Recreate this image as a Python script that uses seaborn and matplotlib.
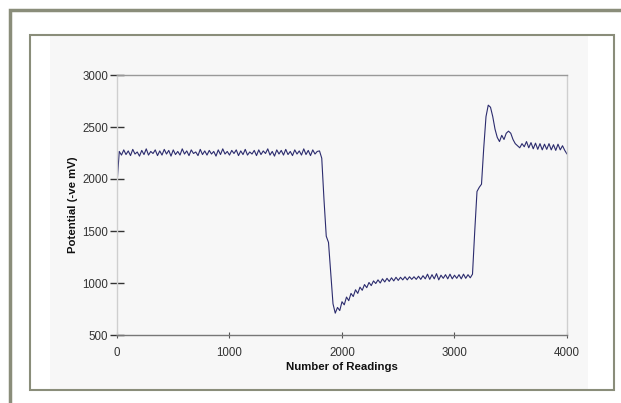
import numpy as np
import pandas as pd
import matplotlib
matplotlib.use("Agg")
import matplotlib.pyplot as plt
from matplotlib.patches import Rectangle
import seaborn as sns

# readings sampled every 20 readings (x axis: Number of Readings)
readings = np.arange(0, 4001, 20)

# Potential (-ve mV) values
plateau_high = [1950, 2265, 2230, 2280, 2235, 2270, 2225, 2285, 2240, 2260,
                2220, 2275, 2235, 2290, 2230, 2265, 2245, 2280, 2225, 2270,
                2230, 2285, 2240, 2275, 2220, 2280, 2235, 2265, 2230, 2290,
                2240, 2270, 2225, 2280, 2245, 2260, 2225, 2285, 2235, 2270,
                2230, 2275, 2240, 2265, 2220, 2280, 2235, 2290, 2240, 2265,
                2230, 2275, 2245, 2280, 2225, 2270, 2235, 2285, 2230, 2260,
                2240, 2275, 2225, 2280, 2235, 2270, 2245, 2290, 2230, 2265,
                2220, 2280, 2240, 2275, 2230, 2285, 2235, 2265, 2225, 2280,
                2240, 2270, 2230, 2290, 2235, 2275, 2225, 2280, 2240, 2265,
                2270]
drop = [2200, 1800, 1450, 1390, 1100, 800, 710]
recovery = [765, 735, 820, 790, 865, 830, 900, 870, 935, 900,
            960, 930, 985, 955, 1005, 975, 1020, 995, 1030, 1000,
            1040, 1010, 1045, 1015, 1050, 1020, 1055, 1025, 1055, 1030,
            1060, 1030, 1060, 1035, 1060, 1035, 1065, 1035, 1070, 1040,
            1085, 1035, 1080, 1040, 1090, 1030, 1075, 1045, 1080, 1040,
            1085, 1040, 1075, 1045, 1080, 1040, 1085, 1045, 1080, 1050,
            1085]
rise = [1500, 1880, 1920, 1950, 2300, 2600, 2710, 2690, 2600, 2480,
        2400, 2360, 2420, 2380, 2440, 2460, 2440, 2380, 2340, 2320,
        2300, 2340, 2310, 2360, 2300, 2350, 2290, 2345, 2285, 2340,
        2280, 2335, 2285, 2340, 2280, 2330, 2275, 2335, 2280, 2320,
        2275, 2240]
potential = plateau_high + drop + recovery + rise

df = pd.DataFrame({"readings": readings[:len(potential)], "potential": potential})

sns.set_theme(style="white")
plt.rcParams["font.family"] = ["Liberation Sans", "DejaVu Sans"]

W, H = 621, 403
fig = plt.figure(figsize=(W / 100, H / 100), dpi=100)
fig.patch.set_facecolor("white")

def fx(px):
    return px / W

def fy(py):
    return 1 - py / H

frame_col = "#8a8d7a"
# light gray panel
fig.patches.append(Rectangle((fx(50), fy(389)), fx(588) - fx(50), fy(35) - fy(389),
                             transform=fig.transFigure, facecolor="#f7f7f7",
                             edgecolor="none", zorder=0))
# inner frame
fig.patches.append(Rectangle((fx(29.5), fy(390)), fx(614) - fx(29.5), fy(34.5) - fy(390),
                             transform=fig.transFigure, facecolor="none",
                             edgecolor=frame_col, linewidth=1.5, zorder=1))
# outer frame (extends past right/bottom of image)
fig.patches.append(Rectangle((fx(9.5), fy(480)), fx(700) - fx(9.5), fy(9.5) - fy(480),
                             transform=fig.transFigure, facecolor="none",
                             edgecolor=frame_col, linewidth=2.5, zorder=1))

ax = fig.add_axes([fx(117), fy(335), fx(567) - fx(117), fy(75) - fy(335)])
ax.set_facecolor("#f7f7f7")
ax.set_zorder(2)

sns.lineplot(data=df, x="readings", y="potential", ax=ax, color="#2c2c6e",
             linewidth=0.8)

ax.set_xlim(0, 4000)
ax.set_ylim(500, 3000)
ax.set_xticks([0, 1000, 2000, 3000, 4000])
ax.set_yticks([500, 1000, 1500, 2000, 2500, 3000])
ax.tick_params(axis="y", direction="inout", length=9.5, width=1, colors="#333333",
               labelsize=8.3, pad=1.5, left=True)
ax.tick_params(axis="x", direction="inout", length=5, width=0.8, colors="#555555",
               labelsize=8.3, pad=6, bottom=True, labelcolor="#333333")
for t, lbl in zip(ax.yaxis.get_major_ticks(), [500, 1000, 1500, 2000, 2500, 3000]):
    if lbl in (1500, 2500):
        t.tick1line.set_color("#dddddd")

for s in ["left", "top", "right"]:
    ax.spines[s].set_color("#cfcfcf")
    ax.spines[s].set_linewidth(1)
ax.spines["bottom"].set_color("#777777")
ax.spines["bottom"].set_linewidth(1)
ax.spines["top"].set_color("#999999")

ax.set_xlabel("Number of Readings", fontsize=8.2, fontweight="bold", color="#111111",
              labelpad=2)
ax.set_ylabel("Potential (-ve mV)", fontsize=8.2, fontweight="bold", color="#111111",
              labelpad=3)
ax.grid(False)

fig.savefig("out.png", dpi=100, facecolor="white")
